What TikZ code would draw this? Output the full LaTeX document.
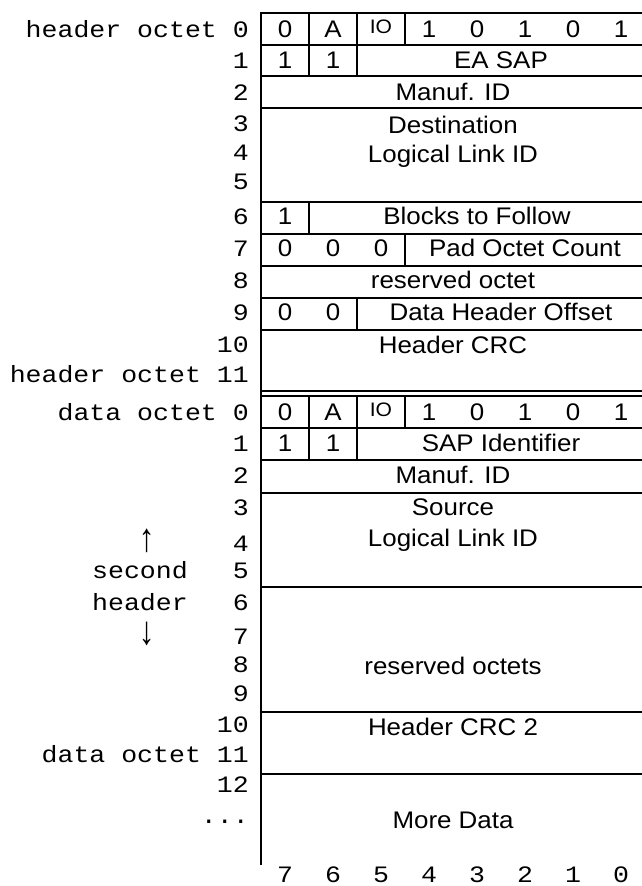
\documentclass[tikz,border=0pt]{standalone}
\usepackage{fontspec}
\usepackage{graphicx}
\newfontfamily\cellfont[FakeStretch=1.08]{Liberation Sans}
\newfontfamily\octfont[FakeStretch=1.13]{Liberation Mono}
\tikzset{
  box line/.style={line width=2pt},
  cell/.style={font=\cellfont\fontsize{24}{28}\selectfont, inner sep=0pt, anchor=base},
  small cell/.style={font=\cellfont\fontsize{19.5}{22}\selectfont, inner sep=0pt, anchor=base},
  octet/.style={font=\octfont\fontsize{23.5}{28}\selectfont, inner sep=0pt, anchor=base east},
  bitno/.style={font=\octfont\fontsize{23.5}{28}\selectfont, inner sep=0pt, anchor=base}
}
\begin{document}
\begin{tikzpicture}[x=1pt,y=-1pt,line cap=rect]
\useasboundingbox (0,0) rectangle (641,886);
% header block
\draw[box line] (261,13)--(641,13) (261,44.5)--(641,44.5) (261,76)--(641,76) (261,107.5)--(641,107.5);
\draw[box line] (261,201.5)--(641,201.5) (261,233.5)--(641,233.5) (261,265.5)--(641,265.5) (261,297.5)--(641,297.5);
\draw[box line] (261,330)--(641,330) (261,391)--(641,391);
\draw[box line] (309,13)--(309,44.5) (357,13)--(357,44.5) (405,13)--(405,44.5);
\draw[box line] (309,44.5)--(309,76) (357,44.5)--(357,76);
\draw[box line] (309,201.5)--(309,233.5);
\draw[box line] (405,233.5)--(405,265.5);
\draw[box line] (357,297.5)--(357,330);
% second header and data
\draw[box line] (261,396)--(641,396) (261,427.5)--(641,427.5) (261,459.5)--(641,459.5) (261,492.5)--(641,492.5);
\draw[box line] (261,586.5)--(641,586.5) (261,712)--(641,712) (261,774)--(641,774);
\draw[box line] (309,396)--(309,427.5) (357,396)--(357,427.5) (405,396)--(405,427.5);
\draw[box line] (309,427.5)--(309,459.5) (357,427.5)--(357,459.5);
\draw[box line] (261,13)--(261,864);
% header fields
\node[cell] (hb7) at (285,37.5) {0};
\node[cell] (hb6) at (333,37.5) {A};
\node[small cell] (hb5) at (381,33.5) {IO};
\node[cell] (hb4) at (429,37.5) {1};
\node[cell] (hb3) at (477,37.5) {0};
\node[cell] (hb2) at (525,37.5) {1};
\node[cell] (hb1) at (573,37.5) {0};
\node[cell] (hb0) at (621,37.5) {1};
\node[cell] (hc1) at (285,68.5) {1};
\node[cell] (hc2) at (333,68.5) {1};
\node[cell] (easap) at (501,68.5) {EA SAP};
\node[cell] (hmanuf) at (453,100) {Manuf. ID};
\node[cell] (dest) at (453,133) {Destination};
\node[cell] (hllid) at (453,162) {Logical Link ID};
\node[cell] (hc6) at (285,224.5) {1};
\node[cell] (blocks) at (477,224.5) {Blocks to Follow};
\node[cell] (hz1) at (285,256.5) {0};
\node[cell] (hz2) at (333,256.5) {0};
\node[cell] (hz3) at (381,256.5) {0};
\node[cell] (pad) at (525,256.5) {Pad Octet Count};
\node[cell] (resv) at (453,288.5) {reserved octet};
\node[cell] (hy1) at (285,320.5) {0};
\node[cell] (hy2) at (333,320.5) {0};
\node[cell] (offset) at (501,320.5) {Data Header Offset};
\node[cell] (hcrc) at (453,353) {Header CRC};
% second header fields
\node[cell] (db7) at (285,420.5) {0};
\node[cell] (db6) at (333,420.5) {A};
\node[small cell] (db5) at (381,416.5) {IO};
\node[cell] (db4) at (429,420.5) {1};
\node[cell] (db3) at (477,420.5) {0};
\node[cell] (db2) at (525,420.5) {1};
\node[cell] (db1) at (573,420.5) {0};
\node[cell] (db0) at (621,420.5) {1};
\node[cell] (dc1) at (285,451.5) {1};
\node[cell] (dc2) at (333,451.5) {1};
\node[cell] (sapid) at (501,451.5) {SAP Identifier};
\node[cell] (dmanuf) at (453,483.5) {Manuf. ID};
\node[cell] (source) at (453,515) {Source};
\node[cell] (dllid) at (453,546.5) {Logical Link ID};
\node[cell] (resvs) at (453,674) {reserved octets};
\node[cell] (dcrc) at (453,735) {Header CRC 2};
\node[cell] (more) at (453,828) {More Data};
% octet numbers
\node[octet] (h0) at (249,37.5) {header octet 0};
\node[octet] (h1) at (249,68.5) {1};
\node[octet] (h2) at (249,100) {2};
\node[octet] (h3) at (249,131) {3};
\node[octet] (h4) at (249,160) {4};
\node[octet] (h5) at (249,189) {5};
\node[octet] (h6) at (249,224.5) {6};
\node[octet] (h7) at (249,256.5) {7};
\node[octet] (h8) at (249,288.5) {8};
\node[octet] (h9) at (249,320.5) {9};
\node[octet] (h10) at (249,352) {10};
\node[octet] (h11) at (249,382) {header octet 11};
\node[octet] (d0) at (249,420.5) {data octet 0};
\node[octet] (d1) at (249,451.5) {1};
\node[octet] (d2) at (249,483.5) {2};
\node[octet] (d3) at (249,515) {3};
\node[octet] (d4) at (249,551.5) {4};
\node[octet] (d5) at (249,578) {5};
\node[octet] (d6) at (249,610) {6};
\node[octet] (d7) at (249,644.5) {7};
\node[octet] (d8) at (249,672.5) {8};
\node[octet] (d9) at (249,701) {9};
\node[octet] (d10) at (249,732.5) {10};
\node[octet] (d11) at (249,762.5) {data octet 11};
\node[octet] (d12) at (249,792.5) {12};
\node[octet] (dmore) at (249,823) {...};
\node[bitno] (upar) at (147,551.5) {\scalebox{1.2}[1.7]{↑}};
\node[octet] (second) at (188,578) {second};
\node[octet] (hdr) at (188,610) {header};
\node[bitno] (downar) at (147,644.5) {\scalebox{1.2}[1.7]{↓}};
% bit numbers
\node[bitno] (n7) at (285,882) {7};
\node[bitno] (n6) at (333,882) {6};
\node[bitno] (n5) at (381,882) {5};
\node[bitno] (n4) at (429,882) {4};
\node[bitno] (n3) at (477,882) {3};
\node[bitno] (n2) at (525,882) {2};
\node[bitno] (n1) at (573,882) {1};
\node[bitno] (n0) at (621,882) {0};
\end{tikzpicture}
\end{document}
